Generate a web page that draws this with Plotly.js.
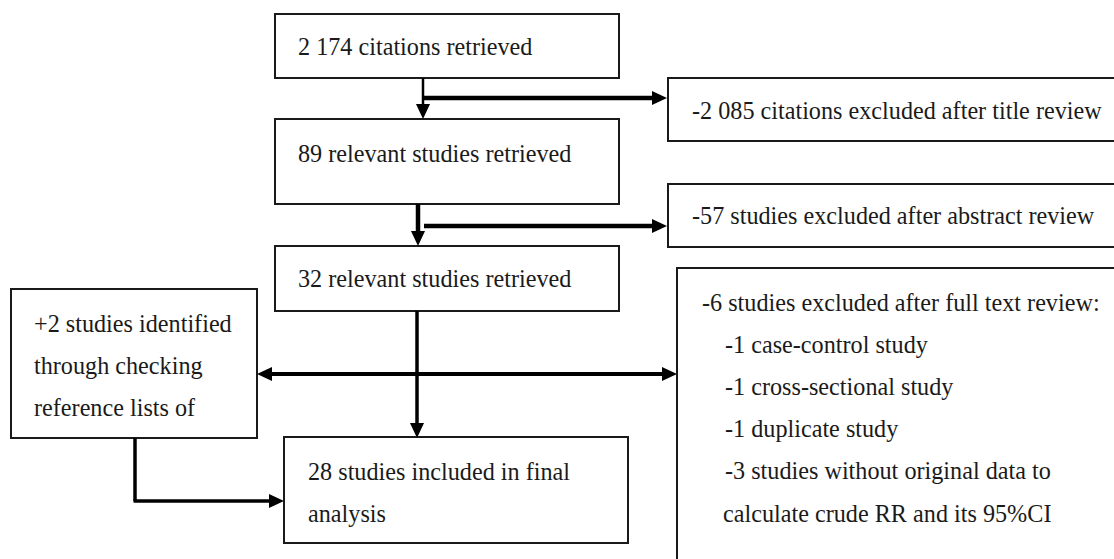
<!DOCTYPE html>
<html>
<head>
<meta charset="utf-8">
<script src="https://cdn.plot.ly/plotly-3.0.1.min.js"></script>
<style>html,body{margin:0;padding:0;background:#fff;}</style>
</head>
<body>
<div id="chart"></div>
<script>
// ---- content (texts) ----
const stepTexts = [
  "2 174 citations retrieved",
  "89 relevant studies retrieved",
  "32 relevant studies retrieved"
];
const exclusionTexts = [
  "-2 085 citations excluded after title review",
  "-57 studies excluded after abstract review"
];
const fullTextTitle = "-6 studies excluded after full text review:";
const fullTextReasons = [
  "-1 case-control study",
  "-1 cross-sectional study",
  "-1 duplicate study",
  "-3 studies without original data to"
];
const fullTextTail = "calculate crude RR and its 95%CI";
const addedLines = ["+2 studies identified", "through checking", "reference lists of"];
const finalLines = ["28 studies included in final", "analysis"];

// ---- layout geometry ----
const W = 1114, H = 559;
const BOX_LINE_COLOR = "#1a1a1a";
const ARROW_COLOR = "#000";

const shapes = [];
const annotations = [];

function box(x0, y0, x1, y1) {
  shapes.push({type: "rect", xref: "x", yref: "y", x0, y0, x1, y1, line: {color: BOX_LINE_COLOR, width: 2}, fillcolor: "rgba(0,0,0,0)"});
}
function line(x0, y0, x1, y1, w) {
  shapes.push({type: "line", xref: "x", yref: "y", x0, y0, x1, y1, line: {color: ARROW_COLOR, width: w}});
}
function head(hx, hy, dir) {
  const L = 15, h = 7;
  let p;
  if (dir === "down") p = `M${hx},${hy} L${hx - h},${hy - L} L${hx + h},${hy - L} Z`;
  if (dir === "right") p = `M${hx},${hy} L${hx - L},${hy - h} L${hx - L},${hy + h} Z`;
  if (dir === "left") p = `M${hx},${hy} L${hx + L},${hy - h} L${hx + L},${hy + h} Z`;
  shapes.push({type: "path", xref: "x", yref: "y", path: p, fillcolor: ARROW_COLOR, line: {width: 0}});
}
function text(x, y, s) {
  annotations.push({x: x, y: y, xref: "x", yref: "y", text: s, showarrow: false, xanchor: "left", yanchor: "middle",
    font: {family: "Liberation Serif", size: 24.2, color: "#1a1a1a"}});
}

// main column boxes
const mainBoxes = [[275, 14, 619, 78], [275, 119, 619, 204], [275, 246, 619, 311]];
const mainTextY = [46, 153, 278];
mainBoxes.forEach((b, i) => { box(b[0], b[1], b[2], b[3]); text(296, mainTextY[i], stepTexts[i]); });

// exclusion boxes on the right
const exclBoxes = [[668, 78, 1125, 141], [668, 184, 1125, 247]];
const exclTextY = [110, 215];
exclBoxes.forEach((b, i) => { box(b[0], b[1], b[2], b[3]); text(690, exclTextY[i], exclusionTexts[i]); });

// full-text exclusions box
box(677, 268, 1125, 580);
text(700, 302, fullTextTitle);
fullTextReasons.forEach((s, i) => text(723, 344 + i * 42.2, s));
text(721, 513, fullTextTail);

// added-from-references box
box(11, 289, 257, 438);
addedLines.forEach((s, i) => text(32, 323 + i * 42, s));

// final box
box(284, 437, 628, 543);
finalLines.forEach((s, i) => text(306, 471 + i * 42, s));

// arrows
line(423, 78, 423, 106, 2.5); head(423, 119, "down");
line(423, 98, 654, 98, 4.5); head(667, 98, "right");

line(418, 204, 418, 233, 4.5); head(418, 246, "down");
line(424, 226, 654, 226, 4.5); head(667, 226, "right");

line(417, 311, 417, 425, 3.5); head(417, 438, "down");
line(270, 374, 664, 374, 4); head(257, 374, "left"); head(677, 374, "right");

line(135, 438, 135, 501, 3.5);
line(133.5, 501, 271, 501, 3.5); head(284, 501, "right");

const layout = {
  width: W, height: H,
  margin: {l: 0, r: 0, t: 0, b: 0},
  paper_bgcolor: "#fff", plot_bgcolor: "#fff",
  xaxis: {range: [0, W], visible: false, fixedrange: true},
  yaxis: {range: [H, 0], visible: false, fixedrange: true},
  shapes: shapes, annotations: annotations, showlegend: false
};
Plotly.newPlot("chart", [], layout, {staticPlot: true, displayModeBar: false});
</script>
</body>
</html>
